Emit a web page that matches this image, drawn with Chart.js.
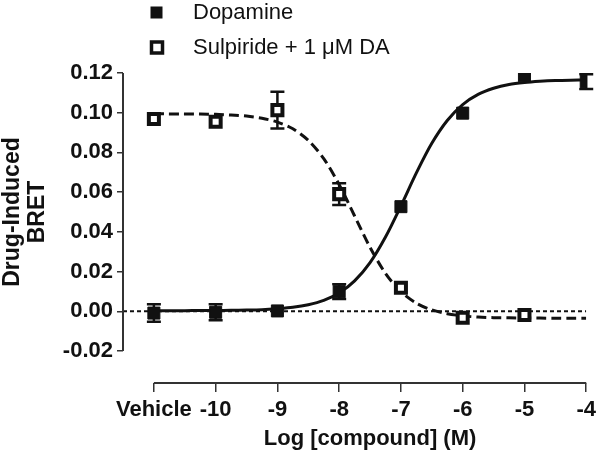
<!DOCTYPE html>
<html>
<head>
<meta charset="utf-8">
<script src="https://cdn.jsdelivr.net/npm/chart.js@4.4.0/dist/chart.umd.min.js"></script>
<style>
  html, body { margin: 0; padding: 0; background: #fff; }
</style>
</head>
<body>
<canvas id="myChart" width="601" height="455"></canvas>
<script>
// log dose on the x axis, -11 is where the vehicle sits
var doses = [-11, -10, -9, -8, -7, -6, -5, -4];
var dopamine = [-0.0009, -0.0005, 0.0002, 0.0099, 0.0527, 0.0998, 0.1186, 0.1157];
var dopamineErr = [0.0044, 0.004, 0, 0.0037, 0, 0, 0, 0.0037];

var sulpDoses = [-11, -10, -9, -8, -7, -6, -5];
var sulpiride = [0.0968, 0.0955, 0.1013, 0.059, 0.0119, -0.0032, -0.0019];
var sulpErr = [0, 0, 0.0093, 0.0055, 0, 0, 0];

// fitted curves, every quarter log unit
var curveX = [-11, -10.75, -10.5, -10.25, -10, -9.75, -9.5, -9.25, -9, -8.75, -8.5, -8.25, -8,
  -7.75, -7.5, -7.25, -7, -6.75, -6.5, -6.25, -6, -5.75, -5.5, -5.25, -5, -4.75, -4.5, -4.25, -4];
var dopamineFit = [0.0003, 0.0003, 0.0003, 0.0004, 0.0004, 0.0005, 0.0006, 0.0008, 0.0013, 0.002,
  0.0033, 0.0055, 0.0092, 0.0153, 0.0245, 0.0374, 0.0531, 0.0697, 0.0846, 0.0961, 0.1041, 0.1092,
  0.1123, 0.1142, 0.1152, 0.1158, 0.1162, 0.1164, 0.1165];
var sulpirideFit = [0.0995, 0.0994, 0.0994, 0.0993, 0.0992, 0.0988, 0.0983, 0.0972, 0.0953, 0.0919,
  0.0861, 0.0769, 0.0638, 0.048, 0.0322, 0.0191, 0.0099, 0.0041, 0.0007, -0.0012, -0.0023, -0.0029,
  -0.0032, -0.0033, -0.0034, -0.0034, -0.0035, -0.0035, -0.0035];

var xTicks = [-11, -10, -9, -8, -7, -6, -5, -4];
var yTicks = [-0.02, 0, 0.02, 0.04, 0.06, 0.08, 0.1, 0.12];
var zeroLine = [-11.5, -4];

var xTitle = 'Log [compound] (M)';
var yTitle = ['Drug-Induced', 'BRET'];

function pts(xs, ys) {
  return xs.map(function (x, i) { return { x: x, y: ys[i] }; });
}

var ink = '#111';
var axisColor = '#333';
var family = '"Liberation Sans", Arial, sans-serif';

// whiskers drawn under the markers
var errorBars = {
  id: 'errorBars',
  beforeDatasetsDraw: function (chart) {
    var ctx = chart.ctx, xs = chart.scales.x, ys = chart.scales.y;
    ctx.save();
    ctx.strokeStyle = ink;
    ctx.lineWidth = 2.5;
    [[doses, dopamine, dopamineErr], [sulpDoses, sulpiride, sulpErr]].forEach(function (s) {
      s[0].forEach(function (d, i) {
        var e = s[2][i];
        if (!e) return;
        var x = xs.getPixelForValue(d);
        var top = ys.getPixelForValue(s[1][i] + e);
        var bot = ys.getPixelForValue(s[1][i] - e);
        ctx.beginPath();
        ctx.moveTo(x, top); ctx.lineTo(x, bot);
        ctx.moveTo(x - 7, top); ctx.lineTo(x + 7, top);
        ctx.moveTo(x - 7, bot); ctx.lineTo(x + 7, bot);
        ctx.stroke();
      });
    });
    ctx.restore();
  }
};

// prism style axes: y only over the tick range, x only from vehicle to -4,
// titles centred on those spans
var axisLines = {
  id: 'axisLines',
  afterDraw: function (chart) {
    var ctx = chart.ctx, xs = chart.scales.x, ys = chart.scales.y, area = chart.chartArea;
    var yTop = ys.getPixelForValue(yTicks[yTicks.length - 1]);
    var yBot = ys.getPixelForValue(yTicks[0]);
    var xL = xs.getPixelForValue(xTicks[0]);
    var xR = xs.getPixelForValue(xTicks[xTicks.length - 1]);
    ctx.save();
    ctx.strokeStyle = axisColor;
    ctx.lineWidth = 2;
    ctx.beginPath();
    ctx.moveTo(area.left, yBot);
    ctx.lineTo(area.left, yTop);
    ctx.moveTo(xL, area.bottom);
    ctx.lineTo(xR, area.bottom);
    ctx.stroke();

    ctx.fillStyle = ink;
    ctx.font = 'bold 22px ' + family;
    ctx.textAlign = 'center';
    ctx.textBaseline = 'middle';
    ctx.fillText(xTitle, (xL + xR) / 2, 439);

    ctx.font = 'bold 23px ' + family;
    ctx.translate(0, (yTop + yBot) / 2);
    ctx.rotate(-Math.PI / 2);
    ctx.fillText(yTitle[0], 0, 13);
    ctx.fillText(yTitle[1], 0, 38);
    ctx.restore();
  }
};

// two stacked legend rows in the top left
var legendRows = {
  id: 'legendRows',
  afterDraw: function (chart) {
    var ctx = chart.ctx;
    ctx.save();
    ctx.fillStyle = ink;
    ctx.fillRect(150.5, 6.5, 12, 12);
    ctx.strokeStyle = ink;
    ctx.lineWidth = 3.5;
    ctx.strokeRect(151.5, 42, 11, 11);
    ctx.font = '22px ' + family;
    ctx.textBaseline = 'middle';
    ctx.fillText(chart.data.datasets[0].label, 193, 13);
    ctx.fillText(chart.data.datasets[1].label, 193, 48);
    ctx.restore();
  }
};

var ctx = document.getElementById('myChart');
var myChart = new Chart(ctx, {
  type: 'scatter',
  data: {
    datasets: [
      {
        label: 'Dopamine',
        data: pts(doses, dopamine),
        pointStyle: 'rect',
        pointRadius: 8.5,
        pointBackgroundColor: ink,
        pointBorderColor: ink,
        pointBorderWidth: 1,
        showLine: false
      },
      {
        label: 'Sulpiride + 1 \u03bcM DA',
        data: pts(sulpDoses, sulpiride),
        pointStyle: 'rect',
        pointRadius: 7.1,
        pointBackgroundColor: '#fff',
        pointBorderColor: ink,
        pointBorderWidth: 4,
        showLine: false
      },
      {
        label: 'Dopamine fit',
        data: pts(curveX, dopamineFit),
        showLine: true,
        pointRadius: 0,
        borderColor: ink,
        borderWidth: 3,
        tension: 0.3
      },
      {
        label: 'Sulpiride fit',
        data: pts(curveX, sulpirideFit),
        showLine: true,
        pointRadius: 0,
        borderColor: ink,
        borderWidth: 3,
        borderDash: [10, 5],
        tension: 0.3
      },
      {
        label: 'zero',
        data: pts(zeroLine, [0, 0]),
        showLine: true,
        pointRadius: 0,
        borderColor: ink,
        borderWidth: 2,
        borderDash: [4, 3]
      }
    ]
  },
  options: {
    responsive: false,
    animation: false,
    layout: { padding: { top: 73, right: 14, left: 0, bottom: 0 } },
    plugins: {
      legend: { display: false },
      tooltip: { enabled: false }
    },
    scales: {
      x: {
        type: 'linear',
        min: -11.5,
        max: -4,
        afterBuildTicks: function (scale) {
          scale.ticks = xTicks.map(function (v) { return { value: v }; });
        },
        afterFit: function (scale) { scale.height = 72; },
        border: { display: false },
        grid: { drawOnChartArea: false, drawTicks: true, tickLength: 9, color: axisColor, lineWidth: 1.5 },
        ticks: {
          autoSkip: false,
          maxRotation: 0,
          padding: 5,
          color: ink,
          font: { family: family, size: 22, weight: 'bold' },
          callback: function (v) { return v === -11 ? 'Vehicle' : String(v); }
        }
      },
      y: {
        min: -0.0361,
        max: 0.12,
        afterBuildTicks: function (scale) {
          scale.ticks = yTicks.map(function (v) { return { value: v }; });
        },
        afterFit: function (scale) { scale.width = 123; },
        border: { display: false },
        grid: { drawOnChartArea: false, drawTicks: true, tickLength: 6, color: axisColor, lineWidth: 1.5 },
        ticks: {
          autoSkip: false,
          padding: 4,
          color: ink,
          font: { family: family, size: 22, weight: 'bold' },
          callback: function (v) { return v.toFixed(2); }
        }
      }
    }
  },
  plugins: [errorBars, axisLines, legendRows]
});
</script>
</body>
</html>
